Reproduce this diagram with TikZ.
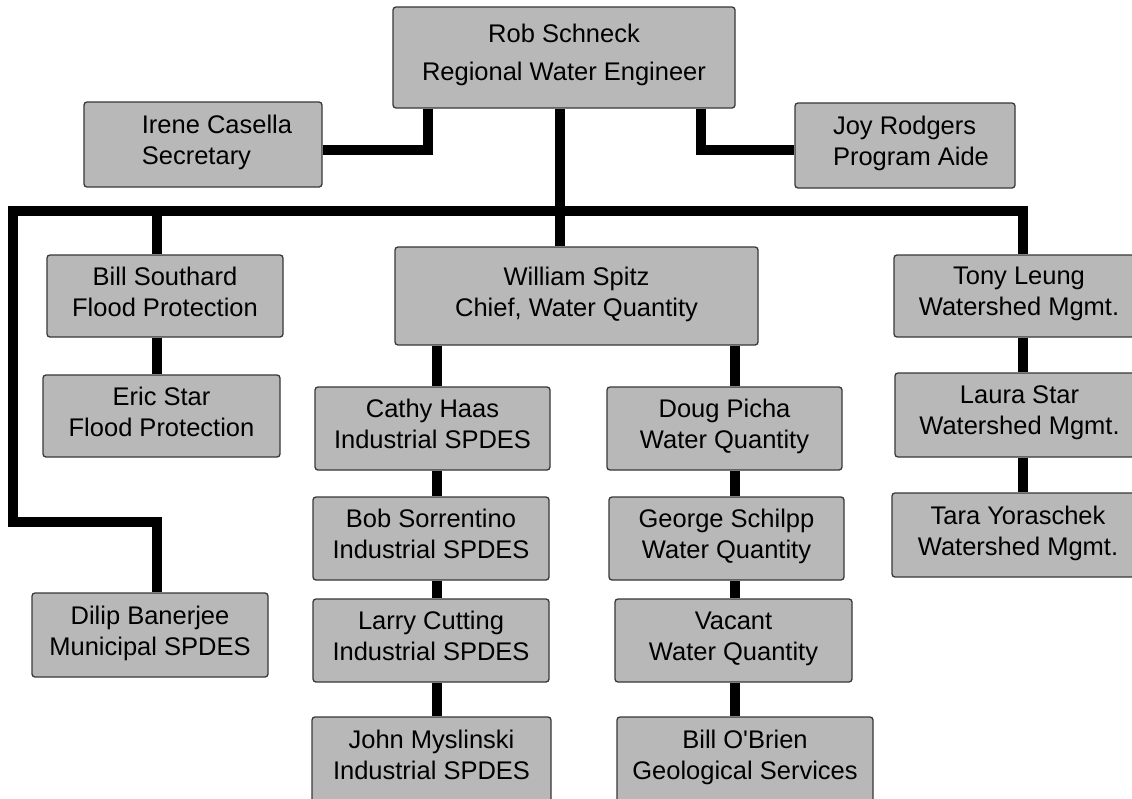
\documentclass[tikz,border=0pt]{standalone}
\usepackage{fontspec}
\setmainfont{Liberation Sans}
\usetikzlibrary{backgrounds}

\definecolor{boxgray}{gray}{0.72}
\definecolor{boxedge}{gray}{0.22}

\tikzset{
  orgbox/.style={draw=boxedge, line width=1.3pt, fill=boxgray, rounded corners=3pt,
    align=center, inner sep=0pt,
    font=\fontsize{25.5}{31}\selectfont,
    execute at begin node=\strut, execute at end node=\strut},
  conn/.style={draw=black, line width=10pt, line join=miter, line cap=butt},
}

\begin{document}
\begin{tikzpicture}[x=1pt, y=-1pt]
  \useasboundingbox (0,0) rectangle (1132,798);
  \clip (0,0) rectangle (1132,798);

  % top level
  \node[orgbox, minimum width=342, minimum height=101,
        font=\fontsize{25.5}{38}\selectfont] (rob) at (564,57.5)
        {Rob Schneck\\Regional Water Engineer};
  \node[orgbox, align=left, minimum width=238, minimum height=85] (irene) at (203,144.5)
        {\hspace*{28pt}Irene Casella\\\hspace*{28pt}Secretary};
  \node[orgbox, align=left, minimum width=220, minimum height=85] (joy) at (905,145.5)
        {\hspace*{12pt}Joy Rodgers\\\hspace*{12pt}Program Aide};

  % second level
  \node[orgbox, minimum width=236, minimum height=82] (bill) at (165,296)
        {Bill Southard\\Flood Protection};
  \node[orgbox, minimum width=363, minimum height=98] (william) at (576.5,296)
        {William Spitz\\Chief, Water Quantity};
  \node[orgbox, minimum width=250, minimum height=82] (tony) at (1019,296)
        {Tony Leung\\Watershed Mgmt.};

  % flood protection / municipal
  \node[orgbox, minimum width=237, minimum height=82] (eric) at (161.5,416)
        {Eric Star\\Flood Protection};
  \node[orgbox, minimum width=236, minimum height=84] (dilip) at (150,635)
        {Dilip Banerjee\\Municipal SPDES};

  % industrial SPDES column
  \node[orgbox, minimum width=235, minimum height=83] (cathy) at (432.5,428.5)
        {Cathy Haas\\Industrial SPDES};
  \node[orgbox, minimum width=236, minimum height=83] (bob) at (431,538.5)
        {Bob Sorrentino\\Industrial SPDES};
  \node[orgbox, minimum width=236, minimum height=83] (larry) at (431,640.5)
        {Larry Cutting\\Industrial SPDES};
  \node[orgbox, minimum width=239, minimum height=85] (john) at (431.5,759.5)
        {John Myslinski\\Industrial SPDES};

  % water quantity column
  \node[orgbox, minimum width=235, minimum height=83] (doug) at (724.5,428.5)
        {Doug Picha\\Water Quantity};
  \node[orgbox, minimum width=235, minimum height=83] (george) at (726.5,538.5)
        {George Schilpp\\Water Quantity};
  \node[orgbox, minimum width=237, minimum height=83] (vacant) at (733.5,640.5)
        {Vacant\\Water Quantity};
  \node[orgbox, minimum width=256, minimum height=85] (obrien) at (745,759.5)
        {Bill O\textquotesingle Brien\\Geological Services};

  % watershed management column
  \node[orgbox, minimum width=249, minimum height=84] (laura) at (1019.5,415)
        {Laura Star\\Watershed Mgmt.};
  \node[orgbox, minimum width=252, minimum height=84] (tara) at (1018,535)
        {Tara Yoraschek\\Watershed Mgmt.};

  % routing points of the connectors
  \coordinate (trunk) at (560,211);
  \coordinate (busL)  at (13,211);
  \coordinate (busR)  at (1023,211);
  \coordinate (lb)    at (157,211);
  \coordinate (elbow) at (157,522);
  \coordinate (lt)    at (428,150);
  \coordinate (rt)    at (701,150);
  \coordinate (colA)  at (437,345);
  \coordinate (colB)  at (735,345);

  \begin{scope}[on background layer]
    \fill[white] (0,0) rectangle (1132,798);
    % staff links
    \draw[conn] (rob.south -| lt) -- (lt) -- (lt -| irene.east);
    \draw[conn] (rob.south -| rt) -- (rt) -- (rt -| joy.west);
    % trunk to chief
    \draw[conn] (rob.south -| trunk) -- (william.north -| trunk);
    % main bus
    \draw[conn] (dilip.north -| elbow) -- (elbow) -| (busL) -- (busR) -- (busR |- tony.north);
    \draw[conn] (lb) -- (lb |- bill.north);
    \draw[conn] (lb |- bill.south) -- (lb |- eric.north);
    % watershed chain
    \draw[conn] (busR |- tony.south) -- (busR |- laura.north);
    \draw[conn] (busR |- laura.south) -- (busR |- tara.north);
    % industrial SPDES chain
    \draw[conn] (william.south -| colA) -- (cathy.north -| colA);
    \draw[conn] (cathy.south -| colA) -- (bob.north -| colA);
    \draw[conn] (bob.south -| colA) -- (larry.north -| colA);
    \draw[conn] (larry.south -| colA) -- (john.north -| colA);
    % water quantity chain
    \draw[conn] (william.south -| colB) -- (doug.north -| colB);
    \draw[conn] (doug.south -| colB) -- (george.north -| colB);
    \draw[conn] (george.south -| colB) -- (vacant.north -| colB);
    \draw[conn] (vacant.south -| colB) -- (obrien.north -| colB);
  \end{scope}
\end{tikzpicture}
\end{document}
